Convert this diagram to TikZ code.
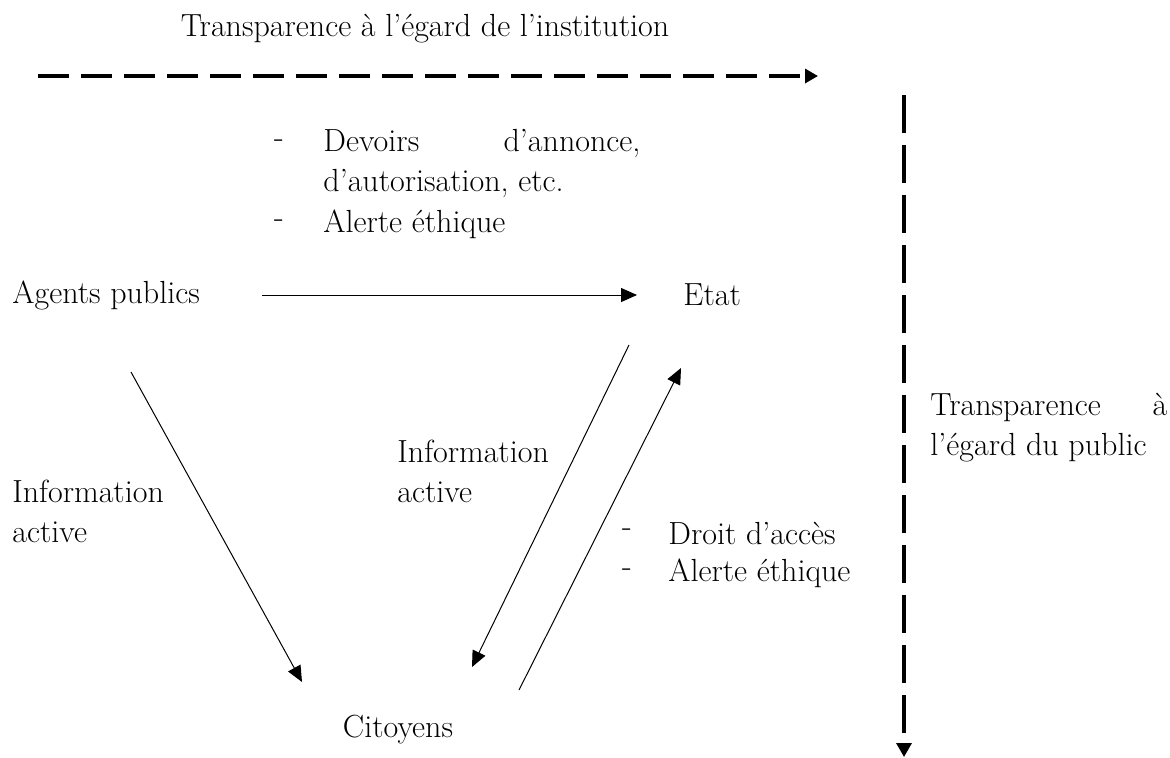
\documentclass[tikz,border=0pt]{standalone}
\usepackage{tikz}
\usetikzlibrary{arrows.meta}

\tikzset{
  texte/.style={inner sep=0pt, font=\fontsize{16}{20}\selectfont},
  fleche/.style={line width=0.5pt, -{Triangle[length=8pt,width=7pt]}},
  pointille/.style={line width=2pt, dash pattern=on 15.5pt off 6pt, -{Triangle[length=6.5pt,width=7pt]}},
}

\begin{document}
\begin{tikzpicture}[x=0.5pt,y=-0.5pt]
\useasboundingbox (0,0) rectangle (1170,757);
% Titre et axes pointillés
\node[texte] (titre) at (425,29) {Transparence à l’égard de l’institution};
\coordinate (h0) at (38,76);
\coordinate (h1) at (818,76);
\draw[pointille] (h0) -- (h1);
\coordinate (v0) at (904,95);
\coordinate (v1) at (904,757);
\draw[pointille, line width=1.6pt, dash pattern=on 19pt off 6pt, -{Triangle[length=7pt,width=7.5pt]}] (v0) -- (v1);
\node[texte, anchor=west, text width=118.5pt, align=justify] (public) at (930,428)
  {Transparence à\linebreak l’égard du public};
% Acteurs
\node[texte, anchor=west] (agents) at (12,295) {Agents publics};
\node[texte, anchor=west] (etat) at (683,295) {Etat};
\node[texte] (citoyens) at (398,730) {Citoyens};
% Devoirs
\node[texte] (tiret1) at (279,144) {-};
\node[texte] (tiret2) at (279,224) {-};
\node[texte, anchor=north west, text width=158.5pt, align=justify] (devoirs) at (323,129)
  {Devoirs d’annonce,\linebreak d’autorisation, etc.};
\node[texte, anchor=west] (alerte1) at (323,224) {Alerte éthique};
% Information active
\node[texte, anchor=west, align=left] (info1) at (12,511) {Information\\active};
\node[texte, anchor=west, align=left] (info2) at (397,471) {Information\\active};
% Droit d'accès
\node[texte] (tiret3) at (627,533) {-};
\node[texte] (tiret4) at (627,573) {-};
\node[texte, anchor=west] (droit) at (668,533) {Droit d’accès};
\node[texte, anchor=west] (alerte2) at (668,573) {Alerte éthique};
% Flèches
\draw[fleche, shorten <=31pt, shorten >=23pt] (agents) -- (etat);
\coordinate (g0) at (131,372);
\coordinate (g1) at (302,682);
\draw[fleche] (g0) -- (g1);
\coordinate (m0) at (629,345);
\coordinate (m1) at (472,667);
\draw[fleche] (m0) -- (m1);
\coordinate (d0) at (519,690);
\coordinate (d1) at (681,368);
\draw[fleche] (d0) -- (d1);
\end{tikzpicture}
\end{document}
